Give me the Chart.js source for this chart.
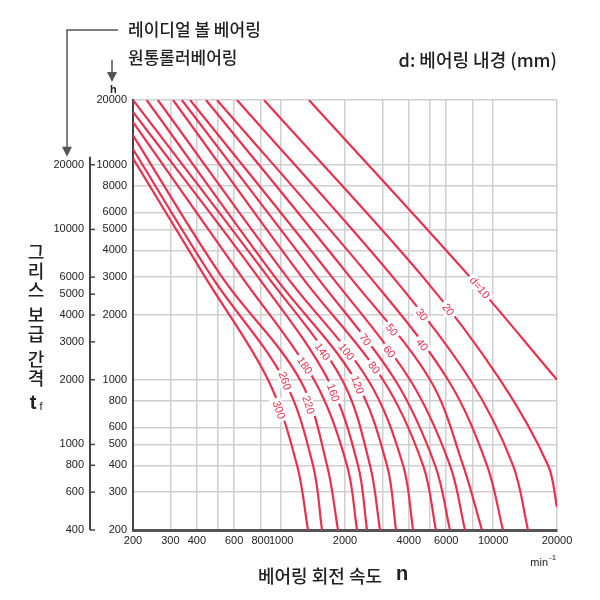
<!DOCTYPE html>
<html><head><meta charset="utf-8">
<script src="https://cdn.jsdelivr.net/npm/chart.js@4.4.1/dist/chart.umd.min.js"></script>
<style>html,body{margin:0;padding:0;background:#fff}#w{width:600px;height:600px}</style>
</head><body><div id="w"><canvas id="c"></canvas></div>
<script>
// Bore diameters d (mm)
const diameters = [10,20,30,40,50,60,70,80,100,120,140,160,180,220,260,300];
// Each curve: [speed n (min^-1), interval h]
const curve10  = [[1352,20000],[7780,3000],[20000,1000]];
const curve20  = [[830,20000],[4670,3000],[10770,1000],[18140,400],[20000,256]];
const curve30  = [[619,20000],[3366,3000],[7780,1000],[12400,400],[14600,200]];
const curve40  = [[498,20000],[2624,3000],[6120,1000],[9350,400],[11120,200]];
const curve50  = [[442,20000],[2113,3000],[5036,1000],[7210,400],[8850,200]];
const curve60  = [[372,20000],[1737,3000],[4050,1000],[6256,400],[7360,200]];
const curve70  = [[340,20000],[1476,3000],[3440,1000],[5322,400],[6256,200]];
const curve80  = [[309,20000],[1253,3000],[3020,1000],[4670,400],[5370,200]];
const curve100 = [[262,20000],[1065,3000],[2565,1000],[3758,400],[4190,200]];
const curve120 = [[232,20000],[935,3000],[2230,1000],[3155,400],[3480,200]];
const curve140 = [[200,20000],[867,3000],[1936,1000],[2624,400],[2925,200]];
const curve160 = [[200,17600],[778,3000],[1664,1000],[2303,400],[2540,200]];
const curve180 = [[200,15800],[653,3000],[1429,1000],[2043,400],[2280,200]];
const curve220 = [[200,13700],[526,3000],[1227,1000],[1645,400],[1854,200]];
const curve260 = [[200,11800],[472,3000],[1031,1000],[1413,400],[1558,200]];
const curve300 = [[200,10700],[438,3000],[867,1000],[1188,400],[1338,200]];
const curves = [curve10,curve20,curve30,curve40,curve50,curve60,curve70,curve80,curve100,curve120,curve140,curve160,curve180,curve220,curve260,curve300];
// h value at which each curve's label sits
const labelH = [2670,2110,2000,1450,1700,1346,1530,1134,1346,944,1346,868,1160,762,986,723];
const labelText = ['d=10','20','30','40','50','60','70','80','100','120','140','160','180','220','260','300'];
// Ticks
const xGrid = [200,300,400,500,600,800,1000,2000,3000,4000,5000,6000,8000,10000,20000];
const xLabels = [200,300,400,600,800,1000,2000,4000,6000,10000,20000];
const yInnerTicks = [200,300,400,500,600,800,1000,2000,3000,4000,5000,6000,8000,10000,20000];
const yOuterTicks = [400,600,800,1000,2000,3000,4000,5000,6000,10000,20000];

const RED = '#e8314f';
const NUM = '"Liberation Sans", Arial, sans-serif';
const KR = '"Noto Sans CJK KR", sans-serif';

const datasets = curves.map((c,i)=>({
  label:'d'+diameters[i],
  data:c.map(p=>({x:p[0],y:p[1]})),
  borderColor:RED, borderWidth:2.2, pointRadius:0, fill:false,
  tension:0.35
}));

const deco = {
  id:'deco',
  afterDatasetsDraw(chart){
    const ctx = chart.ctx, ya = chart.scales.y, yo = chart.scales.y2;
    ctx.save();
    chart.data.datasets.forEach((ds,i)=>{
      const meta = chart.getDatasetMeta(i);
      const py = ya.getPixelForValue(labelH[i]);
      const pts = meta.data;
      for(let k=0;k<pts.length-1;k++){
        const a=pts[k], b=pts[k+1];
        if((a.y-py)*(b.y-py)<=0 && a.y!==b.y){
          const t=(py-a.y)/(b.y-a.y);
          const px=a.x+t*(b.x-a.x);
          const ang=Math.atan2(b.y-a.y,b.x-a.x);
          ctx.save();
          ctx.translate(px,py); ctx.rotate(ang);
          ctx.font='11px '+NUM;
          const w=ctx.measureText(labelText[i]).width;
          ctx.fillStyle='#fff'; ctx.fillRect(-w/2-3,-6,w+6,12);
          ctx.fillStyle=RED; ctx.textAlign='center'; ctx.textBaseline='middle';
          ctx.fillText(labelText[i],0,0);
          ctx.restore();
          break;
        }
      }
    });
    ctx.restore();
    ctx.save();
    const ox = yo.right;
    ctx.strokeStyle='#444'; ctx.lineWidth=2;
    ctx.beginPath(); ctx.moveTo(ox, yo.getPixelForValue(20000)-8); ctx.lineTo(ox, ya.bottom); ctx.stroke();
    ctx.lineWidth=1.5;
    yOuterTicks.forEach(v=>{const p=yo.getPixelForValue(v);ctx.beginPath();ctx.moveTo(ox,p);ctx.lineTo(ox+5,p);ctx.stroke();});
    ctx.strokeStyle='#555'; ctx.fillStyle='#555'; ctx.lineWidth=1.5;
    const topOuter = yo.getPixelForValue(20000)-14;
    ctx.beginPath(); ctx.moveTo(118,30); ctx.lineTo(67,30); ctx.lineTo(67,topOuter); ctx.stroke();
    ctx.beginPath(); ctx.moveTo(62,topOuter-4); ctx.lineTo(72,topOuter-4); ctx.lineTo(67,topOuter+6); ctx.fill();
    ctx.beginPath(); ctx.moveTo(112,60); ctx.lineTo(112,76); ctx.stroke();
    ctx.beginPath(); ctx.moveTo(107,72); ctx.lineTo(117,72); ctx.lineTo(112,82); ctx.fill();
    ctx.fillStyle='#222'; ctx.textBaseline='middle'; ctx.textAlign='left';
    ctx.font='500 17px '+KR;
    ctx.fillText('레이디얼 볼 베어링',128,30);
    ctx.fillText('원통롤러베어링',128,58);
    ctx.font='bold 11px '+NUM; ctx.fillText('h',110,90);
    ctx.font='500 18px '+KR; ctx.textAlign='right';
    ctx.fillText('d: 베어링 내경 (mm)',557,60);
    ctx.font='11px '+NUM; ctx.fillText('min',548,563);
    ctx.font='8px '+NUM; ctx.textAlign='left'; ctx.fillText('-1',549,558);
    ctx.font='500 18px '+KR; ctx.textAlign='center';
    ctx.fillText('베어링 회전 속도',320,576);
    ctx.font='bold 20px '+NUM; ctx.fillText('n',402,574);
    ctx.font='500 18px '+KR;
    const chars=['그','리','스','','보','급','','간','격'];
    let yy=252;
    chars.forEach(ch=>{ if(ch===''){yy+=6;return;} ctx.fillText(ch,36,yy); yy+=19; });
    ctx.font='bold 20px '+NUM; ctx.fillText('t',33,403);
    ctx.font='11px '+NUM; ctx.fillText('f',41,407);
    ctx.restore();
  }
};

new Chart(document.getElementById('c'),{
  type:'line',
  data:{datasets},
  options:{
    responsive:true, maintainAspectRatio:false, animation:false,
    layout:{padding:{left:48,right:43,top:100,bottom:0}},
    plugins:{legend:{display:false},tooltip:{enabled:false}},
    scales:{
      x:{type:'logarithmic',min:200,max:20000,
        afterBuildTicks:s=>{s.ticks=xGrid.map(v=>({value:v}));},
        afterFit:s=>{s.height=70;},
        ticks:{autoSkip:false,maxRotation:0,color:'#222',font:{family:NUM,size:11},padding:4,
          callback:(v)=>xLabels.includes(v)?String(v):''},
        grid:{color:'#cfcfcf',lineWidth:1.5,drawTicks:false},
        border:{color:'#555',width:3}},
      y:{type:'logarithmic',min:200,max:20000,position:'left',weight:1,
        afterBuildTicks:s=>{s.ticks=yInnerTicks.map(v=>({value:v}));},
        afterFit:s=>{s.width=43;},
        ticks:{autoSkip:false,color:'#222',font:{family:NUM,size:11},padding:6,callback:v=>String(v)},
        grid:{color:'#cfcfcf',lineWidth:1.5,drawTicks:false},
        border:{color:'#444',width:2}},
      y2:{type:'logarithmic',min:400,max:40000,position:'left',weight:2,
        afterBuildTicks:s=>{s.ticks=yOuterTicks.map(v=>({value:v}));},
        afterFit:s=>{s.width=42;},
        ticks:{autoSkip:false,color:'#222',font:{family:NUM,size:11},padding:6,callback:v=>String(v)},
        grid:{display:false,drawTicks:false},
        border:{display:false}}
    }
  },
  plugins:[deco]
});
</script></body></html>
